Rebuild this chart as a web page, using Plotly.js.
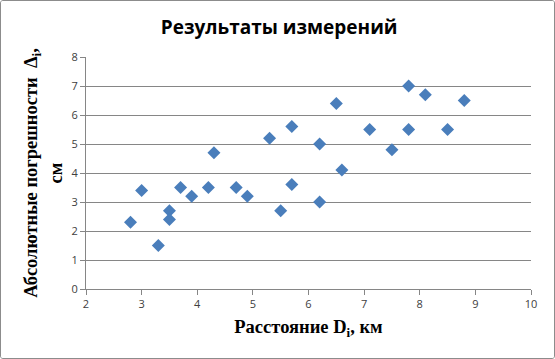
<!DOCTYPE html>
<html><head><meta charset="utf-8">
<script src="https://cdn.plot.ly/plotly-3.0.1.min.js"></script>
<style>
html,body{margin:0;padding:0;background:#fff;}
#frame{position:absolute;left:0;top:0;width:553px;height:357px;border:1px solid #8c8c8c;border-radius:3px;overflow:hidden;}
#chart{width:553px;height:357px;}
</style></head>
<body><div id="frame"><div id="chart"></div></div>
<script>
const distances = [2.8,3.0,3.3,3.5,3.5,3.7,3.9,4.2,4.3,4.7,4.9,5.3,5.5,5.7,5.7,6.2,6.2,6.5,6.6,7.1,7.5,7.8,7.8,8.1,8.5,8.8];
const errors    = [2.3,3.4,1.5,2.7,2.4,3.5,3.2,3.5,4.7,3.5,3.2,5.2,2.7,5.6,3.6,5.0,3.0,6.4,4.1,5.5,4.8,7.0,5.5,6.7,5.5,6.5];
const xTicks = [2,3,4,5,6,7,8,9,10];
const yTicks = [0,1,2,3,4,5,6,7,8];
const chartTitle = 'Результаты измерений';
const xTitle = 'Расстояние D<sub>i</sub>, км';
const yTitle = 'Абсолютные погрешности  Δ<sub>i</sub>,<br>см';

const trace = {
  x: distances, y: errors, type: 'scatter', mode: 'markers',
  marker: {symbol: 'diamond', size: 10, color: '#4a7ebb', line: {width: 0}},
  hoverinfo: 'x+y'
};
const layout = {
  width: 553, height: 357,
  margin: {l: 85, r: 23, t: 56, b: 69, pad: 0},
  paper_bgcolor: '#fff', plot_bgcolor: '#fff',
  showlegend: false,
  title: {text: chartTitle, x: 0.503, xanchor: 'center', y: 0.925, yanchor: 'middle',
          font: {family: 'Open Sans, Liberation Sans, sans-serif', size: 19, color: '#000', weight: 'bold'}},
  xaxis: {
    range: [2, 10], tickvals: xTicks, ticktext: xTicks.map(String),
    showgrid: false, zeroline: false, showline: true, linecolor: '#868686', linewidth: 1,
    ticks: 'outside', ticklen: 5, tickcolor: '#868686',
    tickfont: {family: 'Open Sans, sans-serif', size: 11, color: '#404040'},
    title: {text: xTitle, standoff: 9, font: {family: 'Liberation Serif, serif', size: 18.5, color: '#000', weight: 'bold'}}
  },
  yaxis: {
    range: [0, 8], tickvals: yTicks, ticktext: yTicks.map(String),
    showgrid: true, gridcolor: '#868686', gridwidth: 1, zeroline: false,
    showline: true, linecolor: '#868686', linewidth: 1,
    ticks: 'outside', ticklen: 5, tickcolor: '#868686',
    tickfont: {family: 'Open Sans, sans-serif', size: 11, color: '#404040'},
    title: {text: yTitle, standoff: 4, font: {family: 'Liberation Serif, serif', size: 18.5, color: '#000', weight: 'bold'}}
  }
};
Plotly.newPlot('chart', [trace], layout, {displayModeBar: false});
</script></body></html>
